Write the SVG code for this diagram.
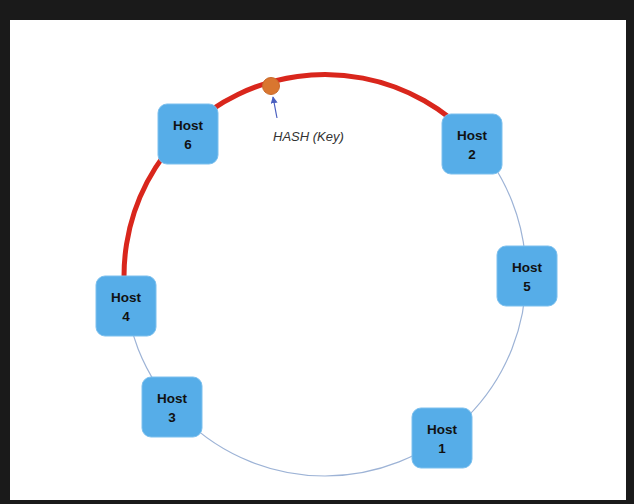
<svg xmlns="http://www.w3.org/2000/svg" width="634" height="504" viewBox="0 0 634 504">
<defs>
<style>
.box{fill:#56ade8;stroke:#7cc0ee;stroke-width:1}
.lbl{font-family:"Liberation Sans",Arial,sans-serif;font-weight:bold;font-size:13.5px;fill:#111;text-anchor:middle}
.hash{font-family:"Liberation Sans",Arial,sans-serif;font-style:italic;font-size:13px;fill:#333}
</style>
<marker id="ah" viewBox="0 0 10 10" refX="9" refY="5" markerWidth="7" markerHeight="7" orient="auto-start-reverse" markerUnits="userSpaceOnUse">
<path d="M0,0 L10,5 L0,10 z" fill="#4a5fbf"/>
</marker>
</defs>
<rect x="0" y="0" width="634" height="504" fill="#1a1a1a"/>
<rect x="10" y="20" width="616" height="480" fill="#ffffff"/>
<g id="connectors">
<circle cx="325" cy="275" r="201" fill="none" stroke="#9db3d6" stroke-width="1.2"/>
<path d="M 126.4 306.2 A 201 201 0 0 1 473 139.5" fill="none" stroke="#d9261c" stroke-width="5"/>
<line x1="277" y1="118" x2="273" y2="97" stroke="#4a5fbf" stroke-width="1.2" marker-end="url(#ah)"/>
</g>
<g id="hash-point">
<circle cx="271" cy="86" r="8.5" fill="#d9762f" stroke="#c8692a" stroke-width="1"/>
<text class="hash" x="273" y="141">HASH (Key)</text>
</g>
<g id="host6"><rect class="box" x="158" y="104" width="60" height="60" rx="9"/><text class="lbl" x="188" y="130">Host</text><text class="lbl" x="188" y="149">6</text></g>
<g id="host2"><rect class="box" x="442" y="114" width="60" height="60" rx="9"/><text class="lbl" x="472" y="140">Host</text><text class="lbl" x="472" y="159">2</text></g>
<g id="host5"><rect class="box" x="497" y="246" width="60" height="60" rx="9"/><text class="lbl" x="527" y="272">Host</text><text class="lbl" x="527" y="291">5</text></g>
<g id="host4"><rect class="box" x="96" y="276" width="60" height="60" rx="9"/><text class="lbl" x="126" y="302">Host</text><text class="lbl" x="126" y="321">4</text></g>
<g id="host3"><rect class="box" x="142" y="377" width="60" height="60" rx="9"/><text class="lbl" x="172" y="403">Host</text><text class="lbl" x="172" y="422">3</text></g>
<g id="host1"><rect class="box" x="412" y="408" width="60" height="60" rx="9"/><text class="lbl" x="442" y="434">Host</text><text class="lbl" x="442" y="453">1</text></g>
</svg>
